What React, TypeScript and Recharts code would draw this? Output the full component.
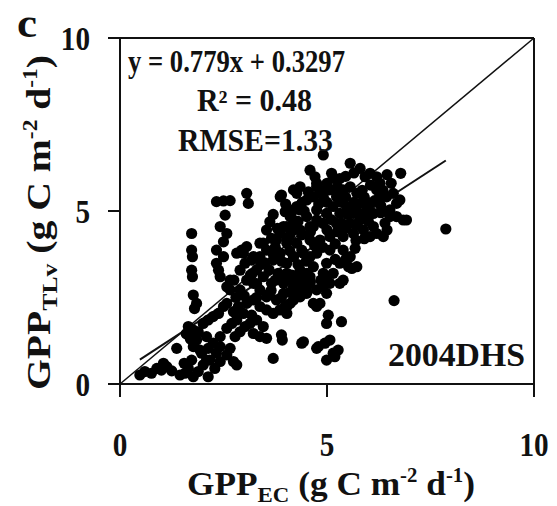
import React from 'react';
import { ScatterChart, Scatter, XAxis, YAxis, ReferenceLine } from 'recharts';

// GPP_EC (x) and GPP_TLv (y), g C m-2 d-1
const gppEC: number[] = [
  0.48, 0.6, 0.76, 0.89, 1.05, 1.0, 1.37, 1.45, 1.57, 1.65, 1.73, 1.77, 1.89, 1.97, 2.01, 2.13, 2.17, 2.29, 2.42, 2.58, 2.74, 2.82,
  1.65, 1.77, 1.89, 2.01, 2.13, 2.25, 2.38, 2.5, 2.58, 1.85, 2.09, 2.25, 2.42, 2.58, 2.7, 2.82, 1.77, 1.93, 2.13, 2.33, 2.42, 2.09,
  2.66, 2.78, 2.9, 3.02, 3.14, 3.22, 3.38, 3.54, 3.7, 3.9, 3.92, 4.39, 4.75, 1.13, 1.25, 1.55, 1.6, 1.7,
  1.73, 1.73, 1.75, 1.73, 1.75, 1.77, 1.85, 1.8,
  2.33, 2.5, 2.66, 3.06, 3.1,
  2.54, 2.42, 2.58, 2.5, 2.33, 2.5, 2.33, 2.38, 2.42, 2.58, 2.66, 2.66,
  2.86, 2.74, 2.98, 3.18, 3.3, 3.46, 3.06, 3.22, 3.38, 3.54, 3.7, 3.86, 4.03, 4.19, 4.35, 4.51, 4.67, 3.54, 3.78, 3.95,
  2.9, 3.06, 3.22, 3.38, 3.46, 3.66, 3.82, 4.03, 4.19, 4.35, 4.51, 2.9, 3.02, 3.18, 3.38, 3.54, 3.7, 3.86, 4.03, 4.19, 4.39, 4.59,
  2.82, 2.94, 3.06, 3.46, 3.66, 3.86, 4.03, 4.19, 4.39, 4.59, 4.75, 4.11, 4.35, 4.51, 4.27, 4.75, 3.9, 3.62, 3.54, 4.03, 3.38, 3.22,
  2.98, 3.78, 4.19,
  4.91, 4.59, 4.71, 4.75, 4.83, 5.11, 5.31, 5.56, 5.8, 5.92, 6.04, 6.2, 6.28, 6.2, 6.28, 6.04, 5.8, 5.96, 6.12, 6.44, 6.6, 6.78,
  6.68, 6.76, 6.52, 6.68, 6.84, 6.92, 6.52, 6.12, 6.2, 6.36, 6.04, 5.68, 5.72, 5.6, 5.52, 5.31, 5.39, 5.07, 4.91, 4.99, 4.75, 4.83,
  5.03, 4.99, 5.35, 5.07, 4.95, 4.79, 5.15, 5.19, 5.27, 4.99, 4.43, 3.99, 4.11, 4.23, 4.43, 4.51, 6.62, 7.87, 4.03,
  3.87, 4.19, 4.35, 3.99, 4.27, 4.67, 4.91, 5.07, 5.23, 5.39, 5.56, 5.72, 5.48, 5.64, 5.31, 5.15, 4.99, 4.75, 4.51, 4.19, 3.95, 4.35,
  4.67, 4.91, 5.23, 5.56, 5.8, 5.88, 5.64, 5.39, 5.07, 4.83, 4.59, 4.27, 4.03, 3.87, 4.19, 4.43, 4.75, 5.07, 5.39, 5.56, 5.31, 4.99,
  4.67, 4.35, 4.03, 3.95, 4.27, 4.59, 4.91, 5.15, 4.51, 4.75,
  3.3, 3.6, 3.75, 3.3, 3.9, 4.1, 4.3, 4.5, 4.7, 4.9, 5.2, 5.0, 5.25, 5.45, 5.7, 5.5, 5.35, 5.0, 4.8, 4.45, 4.6, 4.3, 4.1, 3.75,
  3.4, 3.15, 3.65, 3.9, 4.1, 4.3, 4.6, 4.85, 5.0, 5.2, 5.45, 5.7, 5.9, 6.0, 5.95, 6.3, 6.4, 6.15, 5.65, 5.45, 5.25, 5.0, 5.15,
  5.45, 5.65, 6.05, 6.35, 5.85, 6.55, 6.45, 2.75, 2.8, 3.0,
  3.2, 3.5, 3.7, 3.3, 3.6, 3.95, 4.15, 4.4, 3.8, 3.7, 4.0, 4.55, 4.4, 5.35, 5.1, 5.6, 5.75, 6.3, 6.45, 5.9,
];

const gppTLv: number[] = [
  0.26, 0.36, 0.31, 0.45, 0.6, 0.4, 1.03, 0.26, 0.31, 0.45, 0.69, 0.21, 0.36, 0.89, 0.55, 0.21, 0.69, 0.45, 0.65, 0.84, 0.65, 0.55,
  1.66, 1.56, 1.51, 1.75, 1.85, 1.95, 2.04, 2.24, 2.33, 1.27, 1.37, 1.18, 1.37, 1.61, 1.75, 1.85, 1.08, 0.98, 1.03, 0.89, 1.08, 0.69,
  1.03, 1.37, 1.51, 1.66, 1.75, 1.46, 1.37, 1.32, 0.74, 1.42, 1.27, 1.18, 1.03, 0.5, 0.38, 0.6, 1.45, 1.3,
  4.35, 3.87, 3.68, 3.29, 3.1, 2.57, 2.33, 2.18,
  5.27, 5.29, 5.3, 5.51, 5.22,
  4.88, 4.55, 4.35, 4.11, 3.87, 3.68, 3.49, 3.29, 3.1, 2.81, 3.0, 2.72,
  2.24, 2.09, 2.04, 1.99, 1.85, 1.66, 2.33, 2.43, 2.24, 2.14, 2.04, 2.14, 2.24, 2.43, 2.52, 2.62, 2.33, 2.52, 2.43, 2.62,
  2.72, 3.0, 2.91, 2.72, 3.1, 2.91, 3.2, 3.0, 2.81, 3.0, 3.2, 3.29, 3.49, 3.58, 3.68, 3.87, 3.58, 3.78, 3.49, 3.68, 3.87, 3.68,
  3.78, 3.87, 3.97, 4.07, 4.21, 4.35, 4.16, 4.45, 4.31, 4.55, 4.74, 4.84, 5.03, 5.32, 5.51, 5.7, 5.46, 4.69, 4.45, 4.55, 4.07, 3.68,
  3.78, 4.16, 5.03,
  6.62, 6.18, 5.99, 5.8, 5.61, 6.09, 5.94, 6.38, 6.23, 5.99, 6.09, 5.99, 5.8, 5.61, 5.41, 5.22, 5.22, 5.03, 4.93, 5.41, 5.51, 6.09,
  5.22, 5.32, 5.03, 4.84, 4.74, 4.74, 4.84, 4.55, 4.35, 4.26, 4.26, 3.92, 3.39, 3.34, 3.39, 2.91, 3.0, 2.91, 2.81, 2.62, 2.24, 2.33,
  1.99, 1.75, 1.8, 1.27, 1.18, 1.08, 0.89, 0.79, 0.98, 0.69, 1.22, 2.24, 2.33, 2.52, 2.62, 2.67, 2.41, 4.48, 2.04,
  5.41, 5.61, 5.7, 4.98, 5.13, 5.41, 5.41, 5.61, 5.41, 5.61, 5.7, 5.51, 5.13, 4.93, 4.93, 5.13, 4.93, 5.03, 4.84, 4.74, 4.55, 4.45,
  4.55, 4.64, 4.64, 4.64, 4.74, 4.45, 4.35, 4.26, 4.26, 4.16, 4.16, 4.07, 4.07, 3.78, 3.68, 3.78, 3.78, 3.87, 3.87, 3.68, 3.49, 3.49,
  3.39, 3.29, 3.2, 2.91, 3.0, 3.1, 3.2, 3.2, 2.81, 2.72,
  3.3, 3.3, 3.0, 2.5, 3.55, 3.85, 3.45, 3.55, 4.0, 3.95, 4.05, 4.45, 4.4, 4.5, 4.6, 4.9, 5.25, 5.25, 5.2, 5.0, 4.4, 4.7, 4.3, 3.95,
  3.45, 3.15, 2.7, 2.5, 2.65, 2.8, 2.95, 3.0, 3.1, 3.6, 3.6, 4.15, 4.2, 4.7, 4.85, 5.15, 4.65, 5.3, 5.25, 5.4, 5.7, 5.8, 5.95,
  6.0, 6.1, 5.75, 5.6, 5.6, 5.8, 6.05, 3.0, 2.5, 2.55,
  3.2, 3.5, 3.75, 2.9, 2.6, 3.05, 3.15, 3.1, 4.5, 4.9, 5.2, 5.55, 5.25, 4.65, 4.75, 5.1, 4.95, 4.95, 4.45, 5.4,
];

const axisTicks: number[] = [0, 5, 10];
const slope = 0.779;
const intercept = 0.3297;
const eqLabel = 'y = 0.779x + 0.3297';
const r2Label = 'R² = 0.48';
const rmseLabel = 'RMSE=1.33';
const siteLabel = '2004DHS';
const panelLabel = 'c';

const n = Math.min(gppEC.length, gppTLv.length);
const pts = gppEC.slice(0, n).map((x, i) => ({ x, y: gppTLv[i] }));
const xMin = Math.min(...gppEC.slice(0, n));
const xMax = Math.max(...gppEC.slice(0, n));

const FONT = '"Liberation Serif", "Times New Roman", serif';
const INK = '#111';

const XTick = (props: any) => {
  const { x, y, payload } = props;
  return (
    <g transform={`translate(${x},${y + 57}) scale(0.86,1)`}>
      <text x={0} y={0} textAnchor="middle" fontFamily={FONT} fontWeight="bold" fontSize={34} fill={INK}>
        {payload.value}
      </text>
    </g>
  );
};

const YTick = (props: any) => {
  const { x, y, payload } = props;
  return (
    <g transform={`translate(${x - 16},${y + 12}) scale(0.86,1)`}>
      <text x={0} y={0} textAnchor="end" fontFamily={FONT} fontWeight="bold" fontSize={34} fill={INK}>
        {payload.value}
      </text>
    </g>
  );
};

const Dot = (props: any) => {
  const { cx, cy } = props;
  if (cx == null || cy == null) return null;
  return <circle cx={cx} cy={cy} r={5.6} fill="#000" />;
};

const T = (p: { x: number; y: number; w: number; size: number; children: React.ReactNode; transform?: string }) => (
  <text
    x={p.x}
    y={p.y}
    textLength={p.w}
    lengthAdjust="spacingAndGlyphs"
    fontFamily={FONT}
    fontWeight="bold"
    fontSize={p.size}
    fill={INK}
    transform={p.transform}
  >
    {p.children}
  </text>
);

export default function App() {
  return (
    <div style={{ position: 'absolute', left: 0, top: 0, width: 557, height: 506, background: '#fff' }}>
      <ScatterChart width={557} height={506} margin={{ top: 38, right: 23, bottom: 62, left: 60 }}>
        <XAxis
          type="number"
          dataKey="x"
          domain={[0, 10]}
          ticks={axisTicks}
          interval={0}
          allowDataOverflow
          height={60}
          tickSize={13}
          axisLine={{ stroke: INK, strokeWidth: 2 }}
          tickLine={{ stroke: INK, strokeWidth: 2 }}
          tick={<XTick />}
        />
        <YAxis
          type="number"
          dataKey="y"
          domain={[0, 10]}
          ticks={axisTicks}
          interval={0}
          allowDataOverflow
          width={60}
          tickSize={12}
          axisLine={{ stroke: INK, strokeWidth: 2 }}
          tickLine={{ stroke: INK, strokeWidth: 2 }}
          tick={<YTick />}
        />
        <ReferenceLine y={10} stroke={INK} strokeWidth={2} />
        <ReferenceLine x={10} stroke={INK} strokeWidth={2} />
        <ReferenceLine
          segment={[
            { x: 0, y: 0 },
            { x: 10, y: 10 },
          ]}
          stroke={INK}
          strokeWidth={1.5}
        />
        <Scatter data={pts} fill="#000" isAnimationActive={false} shape={<Dot />} />
        <ReferenceLine
          segment={[
            { x: xMin, y: slope * xMin + intercept },
            { x: xMax, y: slope * xMax + intercept },
          ]}
          stroke={INK}
          strokeWidth={2}
        />
      </ScatterChart>
      <svg
        width={557}
        height={506}
        style={{ position: 'absolute', left: 0, top: 0, pointerEvents: 'none' }}
      >
        <T x={17} y={37} w={20} size={40}>{panelLabel}</T>
        <T x={128} y={72} w={217} size={31}>{eqLabel}</T>
        <T x={197} y={111} w={115} size={31}>{r2Label}</T>
        <T x={178} y={151} w={155} size={31}>{rmseLabel}</T>
        <T x={388} y={366} w={137} size={34}>{siteLabel}</T>
        <T x={187} y={495} w={288} size={34}>
          GPP
          <tspan fontSize={22} dy={7}>EC</tspan>
          <tspan dy={-7}> (g C m</tspan>
          <tspan fontSize={20} dy={-13}>-2</tspan>
          <tspan dy={13}> d</tspan>
          <tspan fontSize={20} dy={-13}>-1</tspan>
          <tspan dy={13}>)</tspan>
        </T>
        <T x={0} y={0} w={335} size={34} transform="translate(50,390) rotate(-90)">
          GPP
          <tspan fontSize={22} dy={7}>TLv</tspan>
          <tspan dy={-7}> (g C m</tspan>
          <tspan fontSize={20} dy={-13}>-2</tspan>
          <tspan dy={13}> d</tspan>
          <tspan fontSize={20} dy={-13}>-1</tspan>
          <tspan dy={13}>)</tspan>
        </T>
      </svg>
    </div>
  );
}
